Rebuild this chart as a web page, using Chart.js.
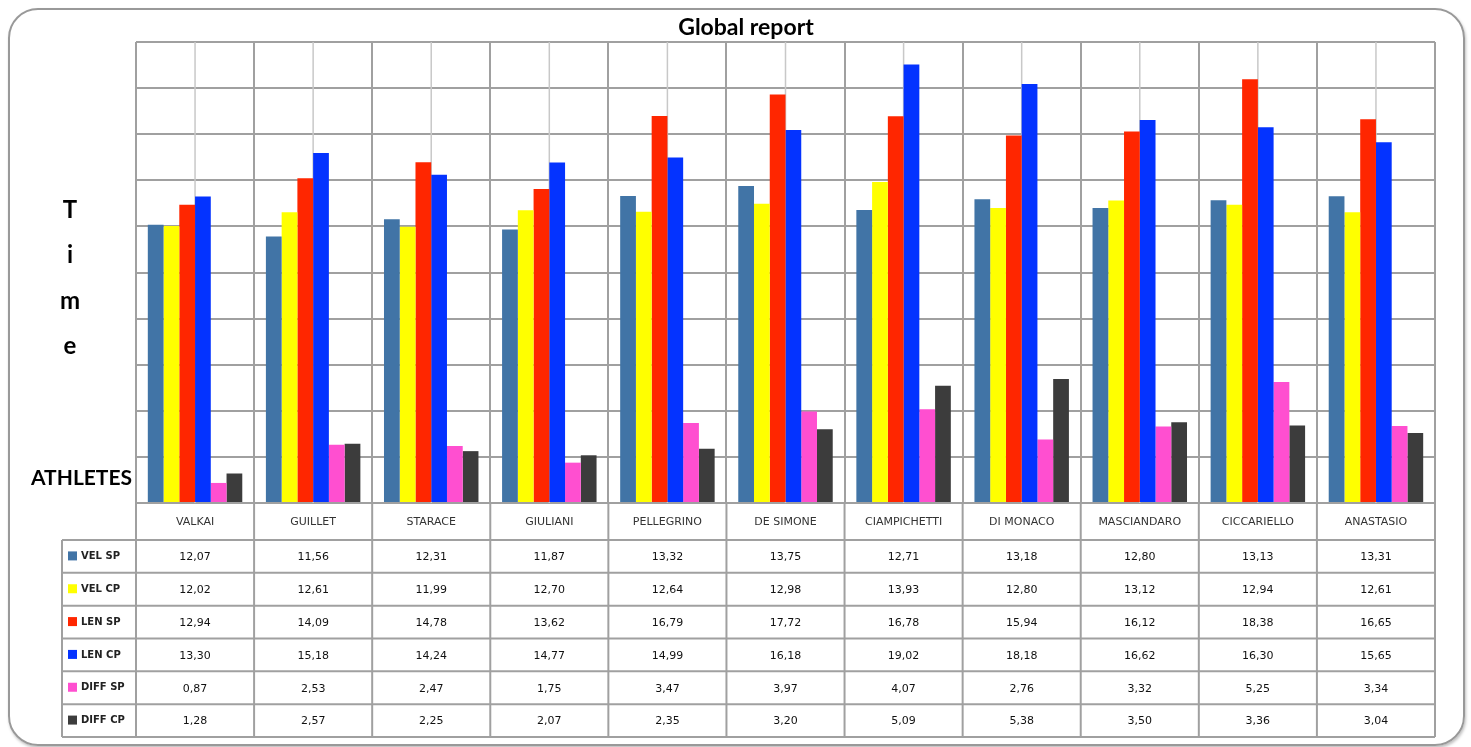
<!DOCTYPE html>
<html>
<head>
<meta charset="utf-8">
<script src="https://cdn.jsdelivr.net/npm/chart.js@4.4.1/dist/chart.umd.min.js"></script>
<style>
  html, body { margin: 0; padding: 0; background: #fff; }
  #wrap { position: relative; width: 1471px; height: 747px; }
  #frame {
    position: absolute; left: 8px; top: 8px; width: 1453px; height: 734px;
    border: 2px solid #999; border-radius: 30px;
    box-shadow: 1px 2px 3px rgba(0,0,0,0.25);
  }
  canvas { position: absolute; left: 0; top: 0; }
</style>
</head>
<body>
<div id="wrap">
  <div id="frame"></div>
  <canvas id="chart" width="1471" height="747"></canvas>
</div>
<script>
// atleti e serie
const athletes = ['VALKAI', 'GUILLET', 'STARACE', 'GIULIANI', 'PELLEGRINO', 'DE SIMONE',
    'CIAMPICHETTI', 'DI MONACO', 'MASCIANDARO', 'CICCARIELLO', 'ANASTASIO'];
const seriesNames = ['VEL SP', 'VEL CP', 'LEN SP', 'LEN CP', 'DIFF SP', 'DIFF CP'];
const seriesColors = ['#4174a6', '#ffff00', '#ff2600', '#0433ff', '#ff4fd0', '#3c3c3c'];

const velSp  = [12.07, 11.56, 12.31, 11.87, 13.32, 13.75, 12.71, 13.18, 12.80, 13.13, 13.31];
const velCp  = [12.02, 12.61, 11.99, 12.70, 12.64, 12.98, 13.93, 12.80, 13.12, 12.94, 12.61];
const lenSp  = [12.94, 14.09, 14.78, 13.62, 16.79, 17.72, 16.78, 15.94, 16.12, 18.38, 16.65];
const lenCp  = [13.30, 15.18, 14.24, 14.77, 14.99, 16.18, 19.02, 18.18, 16.62, 16.30, 15.65];
const diffSp = [0.87, 2.53, 2.47, 1.75, 3.47, 3.97, 4.07, 2.76, 3.32, 5.25, 3.34];
const diffCp = [1.28, 2.57, 2.25, 2.07, 2.35, 3.20, 5.09, 5.38, 3.50, 3.36, 3.04];

const allSeries = [velSp, velCp, lenSp, lenCp, diffSp, diffCp];

const yMin = 0;
const yMax = 20;
const yStep = 2;

const lineColor = '#a0a0a0';

function fmt(v) {
    return v.toFixed(2).replace('.', ',');
}

// linee centrali, tabella dati e testi
const tablePlugin = {
    id: 'tablePlugin',
    beforeDatasetsDraw(chart) {
        const ctx = chart.ctx;
        const xs = chart.scales.x;
        const area = chart.chartArea;
        ctx.save();
        ctx.strokeStyle = '#c8c8c8';
        ctx.lineWidth = 1.5;
        athletes.forEach((a, i) => {
            const x = xs.getPixelForValue(i);
            ctx.beginPath();
            ctx.moveTo(x, area.top);
            ctx.lineTo(x, area.bottom);
            ctx.stroke();
        });
        ctx.restore();
    },
    afterDraw(chart) {
        const ctx = chart.ctx;
        const xs = chart.scales.x;
        const area = chart.chartArea;
        const catW = (area.right - area.left) / athletes.length;
        const headBottom = 540;
        const tableBottom = 737;
        const rowH = (tableBottom - headBottom) / seriesNames.length;
        const legendLeft = 62;

        ctx.save();
        ctx.strokeStyle = lineColor;
        ctx.lineWidth = 2;

        // verticali
        for (let i = 0; i <= athletes.length; i++) {
            const x = area.left + i * catW;
            ctx.beginPath();
            ctx.moveTo(x, area.bottom);
            ctx.lineTo(x, tableBottom);
            ctx.stroke();
        }
        ctx.beginPath();
        ctx.moveTo(legendLeft, headBottom);
        ctx.lineTo(legendLeft, tableBottom);
        ctx.stroke();

        // orizzontali
        for (let r = 0; r <= seriesNames.length; r++) {
            const y = headBottom + r * rowH;
            ctx.beginPath();
            ctx.moveTo(legendLeft, y);
            ctx.lineTo(area.right, y);
            ctx.stroke();
        }

        // nomi atleti
        ctx.textAlign = 'center';
        ctx.textBaseline = 'middle';
        ctx.fillStyle = '#333';
        ctx.font = '11px "DejaVu Sans"';
        athletes.forEach((a, i) => {
            ctx.fillText(a, xs.getPixelForValue(i), (area.bottom + headBottom) / 2 + 1);
        });

        // valori
        ctx.fillStyle = '#111';
        allSeries.forEach((vals, r) => {
            const y = headBottom + (r + 0.5) * rowH + 1;
            vals.forEach((v, i) => {
                ctx.fillText(fmt(v), xs.getPixelForValue(i), y);
            });
        });

        // legenda
        ctx.textAlign = 'left';
        ctx.font = 'bold 10px "DejaVu Sans"';
        seriesNames.forEach((n, r) => {
            const y = headBottom + (r + 0.5) * rowH;
            ctx.fillStyle = seriesColors[r];
            ctx.fillRect(legendLeft + 6, y - 5, 9, 9);
            ctx.fillStyle = '#222';
            ctx.fillText(n, legendLeft + 19, y);
        });

        // titolo e assi
        ctx.fillStyle = '#000';
        ctx.textAlign = 'center';
        ctx.font = 'bold 23px Lato';
        ctx.fillText('Global report', 746, 28);

        ctx.font = 'bold 24px Lato';
        ['T', 'i', 'm', 'e'].forEach((c, k) => {
            ctx.fillText(c, 70, 210 + k * 45.5);
        });

        ctx.textAlign = 'left';
        ctx.font = 'bold 21px Lato';
        ctx.fillText('ATHLETES', 31, 478);
        ctx.restore();
    }
};

const ctx = document.getElementById('chart').getContext('2d');
const chart = new Chart(ctx, {
    type: 'bar',
    data: {
        labels: athletes,
        datasets: seriesNames.map((n, k) => ({
            label: n,
            data: allSeries[k],
            backgroundColor: seriesColors[k],
            borderWidth: 0,
            categoryPercentage: 0.8,
            barPercentage: 1.0
        }))
    },
    options: {
        responsive: false,
        animation: false,
        layout: {
            padding: { left: 136, right: 36, top: 42, bottom: 244 }
        },
        plugins: {
            legend: { display: false },
            title: { display: false },
            tooltip: { enabled: false }
        },
        scales: {
            x: {
                ticks: { display: false },
                border: { display: false },
                grid: { color: lineColor, lineWidth: 2, drawTicks: false },
                afterFit: s => { s.height = 0; }
            },
            y: {
                min: yMin,
                max: yMax,
                ticks: { display: false, stepSize: yStep },
                border: { display: false },
                grid: { color: lineColor, lineWidth: 2, drawTicks: false },
                afterFit: s => { s.width = 0; }
            }
        }
    },
    plugins: [tablePlugin]
});
</script>
</body>
</html>
